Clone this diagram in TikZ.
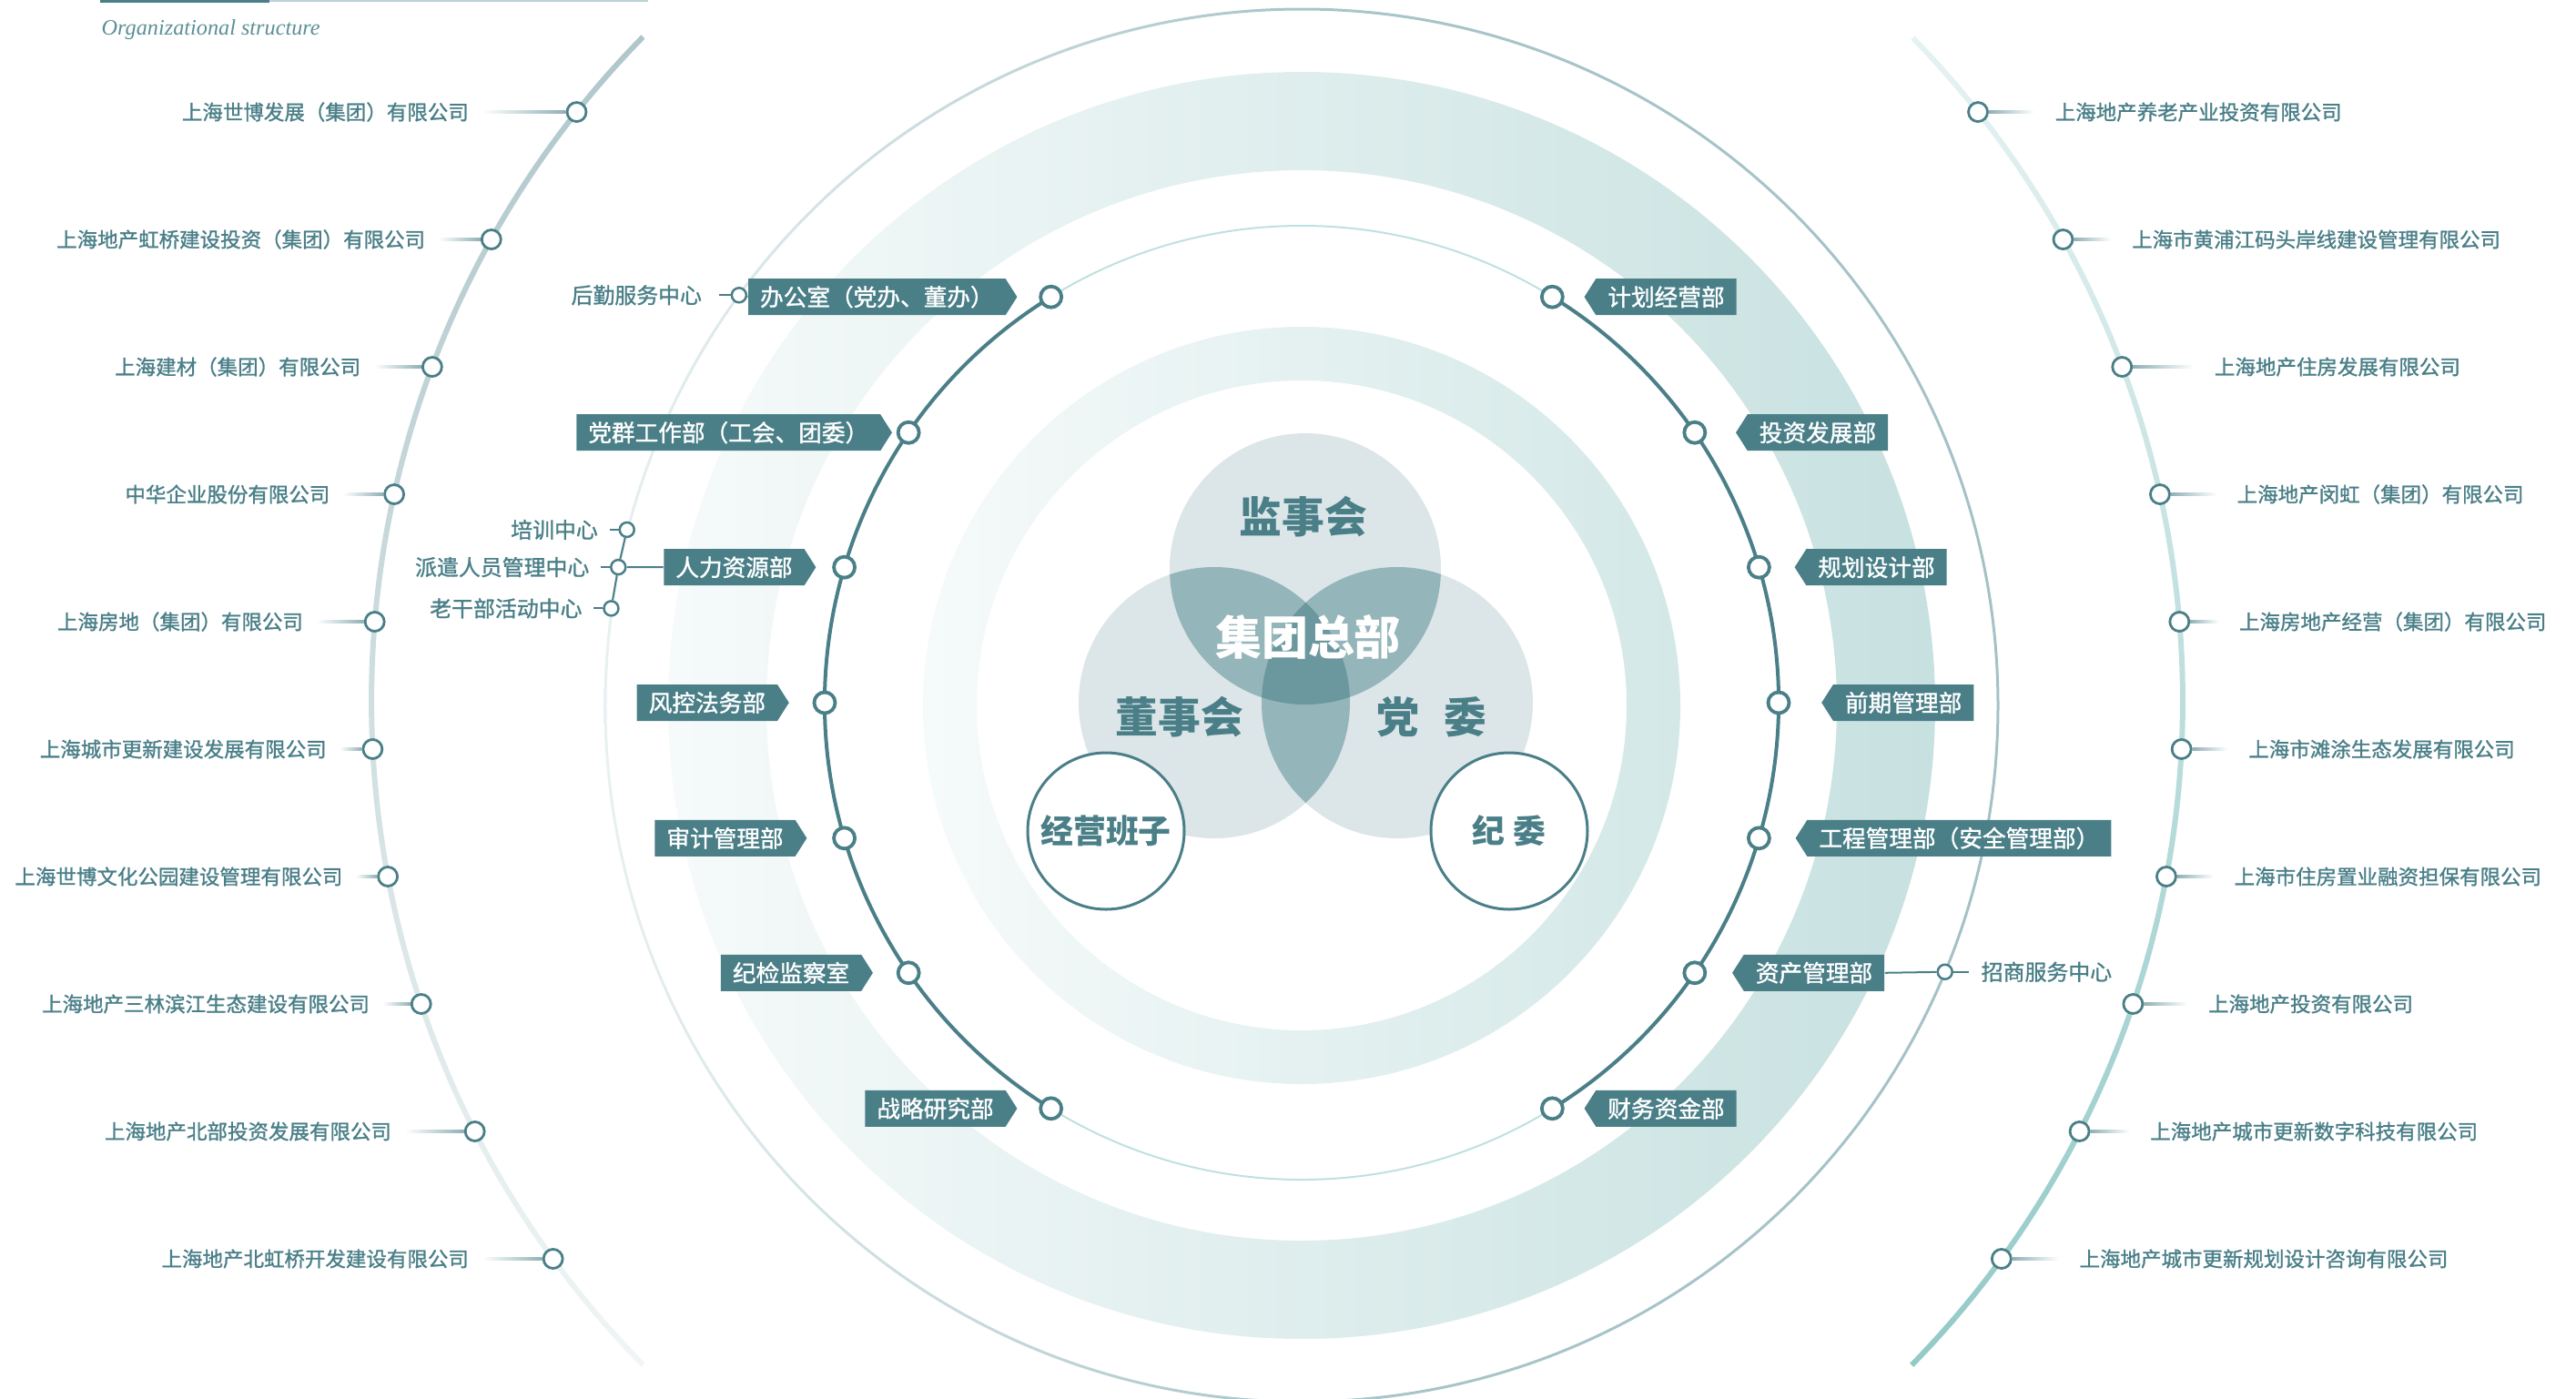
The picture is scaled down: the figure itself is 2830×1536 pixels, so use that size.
\documentclass[tikz,border=0pt]{standalone}
\usepackage{fontspec}
\setmainfont{Liberation Serif}
\newfontfamily\cjk{Noto Sans CJK SC}
\newfontfamily\cjkm[FakeBold=1.2]{Noto Sans CJK SC}
\usetikzlibrary{positioning,calc,shapes.symbols}

\definecolor{orgteal}{HTML}{4A7F88}
\definecolor{titleteal}{HTML}{5B8F96}
\definecolor{titleline}{HTML}{BCD2D5}
\definecolor{ringcyan}{HTML}{BFE0E0}
\definecolor{vennA}{HTML}{DCE5E8}
\definecolor{vennB}{HTML}{94B5B9}
\definecolor{vennC}{HTML}{6A989E}
\definecolor{linkc}{HTML}{8FB0B5}
\definecolor{bandL}{HTML}{F6FAFA}
\definecolor{bandR}{HTML}{C7E1E0}
\definecolor{innerL}{HTML}{F6FAFA}
\definecolor{innerR}{HTML}{D3E8E7}
\definecolor{outerL}{HTML}{E8F0F1}
\definecolor{outerM}{HTML}{A9C5C9}
\definecolor{outerR}{HTML}{A4C2C6}
\definecolor{arcLtop}{HTML}{AFC7CB}
\definecolor{arcLbot}{HTML}{F0F5F5}
\definecolor{arcRtop}{HTML}{E6F2F2}
\definecolor{arcRbot}{HTML}{93CAC8}

\begin{document}
\begin{tikzpicture}[x=0.1mm, y=0.1mm,
  tagL/.style={signal, signal to=east, signal pointer angle=115, fill=orgteal,
    text=white, font=\cjkm\fontsize{7.3pt}{8pt}\selectfont,
    minimum height=4mm, inner xsep=1.3mm, inner ysep=0pt},
  tagR/.style={tagL, signal to=west},
  ddot/.style={circle, draw=orgteal, line width=0.38mm, fill=white, minimum size=2.3mm, inner sep=0pt},
  cdot/.style={circle, draw=orgteal, line width=0.28mm, fill=white, minimum size=2.1mm, inner sep=0pt},
  sdot/.style={circle, draw=orgteal, line width=0.25mm, fill=white, minimum size=1.6mm, inner sep=0pt},
  comp/.style={text=orgteal, font=\cjkm\fontsize{6.4pt}{7pt}\selectfont, inner sep=0pt},
  sublbl/.style={text=orgteal, font=\cjkm\fontsize{6.8pt}{7pt}\selectfont, inner sep=0pt},
  subline/.style={draw=orgteal, line width=0.2mm},
  vennlbl/.style={text=orgteal, font=\cjk\bfseries\fontsize{13.3pt}{14pt}\selectfont},
  ring/.style={circle, draw=orgteal, line width=0.3mm, fill=white, minimum size=17.2mm, inner sep=0pt,
    text=orgteal, font=\cjk\bfseries\fontsize{10.2pt}{11pt}\selectfont}
]
\useasboundingbox (-1430,-761) rectangle (1400,775);

% centres
\coordinate (o) at (0,0);
\coordinate (dc) at (0,3);
\coordinate (lc) at (19,5);
\coordinate (rc) at (-75,5);

% rings
\shade[left color=bandL, right color=bandR, even odd rule] (o) circle (696) (o) circle (588);
\shade[left color=innerL, right color=innerR, even odd rule] (o) circle (416) (o) circle (357);
\shade[left color=outerL, right color=outerR, middle color=outerM, even odd rule] (o) circle (766.5) (o) circle (763.5);
\draw[ringcyan, line width=0.2mm] (dc) circle (524);
\draw[orgteal, line width=0.4mm] ($(dc)+(121.7:524)$) arc[start angle=121.7, end angle=238.3, radius=524];
\draw[orgteal, line width=0.4mm] ($(dc)+(-58.3:524)$) arc[start angle=-58.3, end angle=58.3, radius=524];

% company arcs
\shade[top color=arcLtop, bottom color=arcLbot] ($(lc)+(135.5:1044)$) arc[start angle=135.5, end angle=224.5, radius=1044]
  -- ($(lc)+(224.5:1038)$) arc[start angle=224.5, end angle=135.5, radius=1038] -- cycle;
\shade[top color=arcRtop, bottom color=arcRbot] ($(rc)+(-44.4:1046)$) arc[start angle=-44.4, end angle=44.3, radius=1046]
  -- ($(rc)+(44.3:1040)$) arc[start angle=44.3, end angle=-44.4, radius=1040] -- cycle;

% title
\fill[orgteal] (-1320,772) rectangle (-1134,775);
\fill[titleline] (-1134,773.5) rectangle (-718,775);
\node[anchor=base west, inner sep=0pt, text=titleteal, font=\itshape\fontsize{6.9pt}{8pt}\selectfont] (title) at (-1319,737) {Organizational structure};

% venn
\coordinate (vt) at (4,150);
\coordinate (vl) at (-96,3);
\coordinate (vr) at (105,3);
\fill[vennA] (vt) circle (149) (vl) circle (149) (vr) circle (149);
\begin{scope}
  \clip (vt) circle (149);
  \fill[vennB] (vl) circle (149) (vr) circle (149);
\end{scope}
\begin{scope}
  \clip (vl) circle (149);
  \fill[vennB] (vr) circle (149);
\end{scope}
\begin{scope}
  \clip (vt) circle (149);
  \clip (vl) circle (149);
  \fill[vennC] (vr) circle (149);
\end{scope}
\node[vennlbl] (jsh) at (2,207) {监事会};
\node[vennlbl, text=white, font=\cjk\bfseries\fontsize{14.5pt}{15pt}\selectfont] (jtzb) at (7,75) {集团总部};
\node[vennlbl] (dsh) at (-134,-13) {董事会};
\node[vennlbl] (dw) at (143,-13) {党\hspace{0.6em}委};
\node[ring] (jybz) at (-215,-138) {经营班子};
\node[ring] (jw) at (228,-138) {纪\hspace{0.25em}委};

% departments
\foreach \nm/\a in {dl1/121.7, dl2/145.5, dl3/163.5, dl4/180, dl5/196.5, dl6/214.5, dl7/238.3,
                    dr1/58.3, dr2/34.5, dr3/16.5, dr4/0, dr5/-16.5, dr6/-34.5, dr7/-58.3}
  \node[ddot] (\nm) at ($(dc)+(\a:524)$) {};

\foreach \nm/\txt/\g in {dl1/办公室（党办、董办）/2.3, dl2/党群工作部（工会、团委）/0.4,
    dl3/人力资源部/1.7, dl4/风控法务部/2.5, dl5/审计管理部/2.7, dl6/纪检监察室/2.5, dl7/战略研究部/2.3}
  \node[tagL, left=\g mm of \nm] (t\nm) {\txt};

\foreach \nm/\txt/\g in {dr1/计划经营部/2.1, dr2/投资发展部/3.1, dr3/规划设计部/2.5, dr4/前期管理部/3.3,
    dr5/工程管理部（安全管理部）/2.6, dr6/资产管理部/2.7, dr7/财务资金部/2.1}
  \node[tagR, right=\g mm of \nm] (t\nm) {\txt};

% support centres
\node[sdot] (hq) at (143.9:765) {};
\node[sdot] (pxn) at (168.56:766) {};
\node[sdot] (ptn) at (165.4:766) {};
\node[sdot] (lgn) at (172.0:766) {};
\node[sdot] (zsn) at (-22.5:765) {};

\draw[subline] (tdl1.west) -- (hq);
\draw[subline] (tdl3.west) -- (pxn);
\draw[subline] (ptn) -- (pxn) -- (lgn);
\draw[subline] (tdr6.east) -- (zsn);

\coordinate (hqe) at ([xshift=-1.3mm]hq.west);
\coordinate (pte) at ([xshift=-1mm]ptn.west);
\coordinate (pxe) at ([xshift=-1mm]pxn.west);
\coordinate (lge) at ([xshift=-1mm]lgn.west);
\coordinate (zse) at ([xshift=1.7mm]zsn.east);
\draw[subline] (hq) -- (hqe);
\draw[subline] (ptn) -- (pte);
\draw[subline] (pxn) -- (pxe);
\draw[subline] (lgn) -- (lge);
\draw[subline] (zsn) -- (zse);

\node[sublbl, anchor=east] (hqt) at ([xshift=-1.8mm]hqe) {后勤服务中心};
\node[sublbl, anchor=east] (ptt) at ([xshift=-1.2mm]pte) {培训中心};
\node[sublbl, anchor=east] (pxt) at ([xshift=-1.2mm]pxe) {派遣人员管理中心};
\node[sublbl, anchor=east] (lgt) at ([xshift=-1.2mm]lge) {老干部活动中心};
\node[sublbl, anchor=west] (zst) at ([xshift=1.3mm]zse) {招商服务中心};

% subsidiaries, left
\foreach \i/\txt/\d in {0/上海世博发展（集团）有限公司/118, 1/上海地产虹桥建设投资（集团）有限公司/72,
    2/上海建材（集团）有限公司/78, 3/中华企业股份有限公司/70, 4/上海房地（集团）有限公司/78,
    5/上海城市更新建设发展有限公司/50, 6/上海世博文化公园建设管理有限公司/49,
    7/上海地产三林滨江生态建设有限公司/56, 8/上海地产北部投资发展有限公司/91,
    9/上海地产北虹桥开发建设有限公司/92}{
  \pgfmathsetmacro\yy{652-140*\i}
  \pgfmathsetmacro\aa{180-asin((\yy-5)/1041)}
  \node[cdot] (cl\i) at ($(lc)+(\aa:1041)$) {};
  \node[comp, anchor=east] (ltx\i) at ($(cl\i)+(-\d,0)$) {\txt};
  \shade[left color=white, right color=linkc] ($(ltx\i.east)+(14,-1.4)$) rectangle ($(cl\i.west)+(0,1.4)$);
}

% subsidiaries, right
\foreach \i/\txt/\d in {0/上海地产养老产业投资有限公司/84, 1/上海市黄浦江码头岸线建设管理有限公司/75,
    2/上海地产住房发展有限公司/101, 3/上海地产闵虹（集团）有限公司/84, 4/上海房地产经营（集团）有限公司/65,
    5/上海市滩涂生态发展有限公司/73, 6/上海市住房置业融资担保有限公司/74, 7/上海地产投资有限公司/82,
    8/上海地产城市更新数字科技有限公司/77, 9/上海地产城市更新规划设计咨询有限公司/85}{
  \pgfmathsetmacro\yy{652-140*\i}
  \pgfmathsetmacro\aa{asin((\yy-5)/1043)}
  \node[cdot] (cr\i) at ($(rc)+(\aa:1043)$) {};
  \node[comp, anchor=west] (rtx\i) at ($(cr\i)+(\d,0)$) {\txt};
  \shade[left color=linkc, right color=white] ($(cr\i.east)+(0,-1.4)$) rectangle ($(rtx\i.west)+(-22,1.4)$);
}
\end{tikzpicture}
\end{document}
